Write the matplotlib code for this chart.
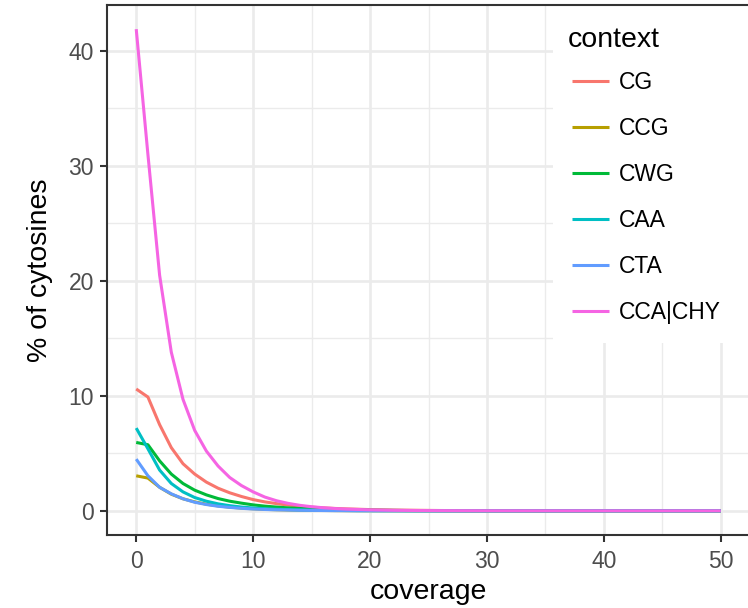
import numpy as np
import matplotlib
matplotlib.use("Agg")
import matplotlib.pyplot as plt
from matplotlib.patches import Rectangle

plt.rcParams["font.family"] = ["Liberation Sans", "DejaVu Sans"]

# ── data: % of cytosines by read coverage ───────────────────────────────────────
coverage = np.arange(0, 51)

cg = [10.6, 9.9, 7.5, 5.5, 4.1, 3.2, 2.5, 1.97, 1.57, 1.25,
      0.98, 0.78, 0.63, 0.5, 0.4, 0.32, 0.26, 0.21, 0.17, 0.14,
      0.11, 0.09, 0.07, 0.06, 0.05, 0.04, 0.03, 0.025, 0.02, 0.016,
      0.013, 0.01, 0.008, 0.007, 0.006, 0.005, 0.004, 0.003, 0.003, 0.002,
      0.002, 0.002, 0.001, 0.001, 0.001, 0.001, 0.001, 0.001, 0.001, 0.001,
      0.001]
ccg = [3.05, 2.85, 2.05, 1.45, 1.05, 0.78, 0.58, 0.43, 0.32, 0.24,
       0.18, 0.13, 0.1, 0.08, 0.06, 0.045, 0.035, 0.026, 0.02, 0.015,
       0.012, 0.009, 0.007, 0.005, 0.004, 0.003, 0.003, 0.002, 0.002, 0.001,
       0.001, 0.001, 0.001, 0.001, 0.001, 0.001, 0.001, 0.001, 0.001, 0.001,
       0.001, 0.001, 0.001, 0.001, 0.001, 0.001, 0.001, 0.001, 0.001, 0.001,
       0.001]
cwg = [5.95, 5.75, 4.35, 3.2, 2.38, 1.8, 1.39, 1.07, 0.84, 0.67,
       0.52, 0.41, 0.33, 0.26, 0.21, 0.17, 0.13, 0.11, 0.09, 0.07,
       0.06, 0.05, 0.04, 0.03, 0.025, 0.02, 0.016, 0.013, 0.01, 0.008,
       0.007, 0.005, 0.004, 0.004, 0.003, 0.002, 0.002, 0.002, 0.001, 0.001,
       0.001, 0.001, 0.001, 0.001, 0.001, 0.001, 0.001, 0.001, 0.001, 0.001,
       0.001]
caa = [7.2, 5.4, 3.55, 2.38, 1.65, 1.16, 0.84, 0.61, 0.45, 0.33,
       0.25, 0.19, 0.14, 0.11, 0.08, 0.06, 0.05, 0.04, 0.03, 0.02,
       0.016, 0.012, 0.01, 0.008, 0.006, 0.005, 0.004, 0.003, 0.002, 0.002,
       0.002, 0.001, 0.001, 0.001, 0.001, 0.001, 0.001, 0.001, 0.001, 0.001,
       0.001, 0.001, 0.001, 0.001, 0.001, 0.001, 0.001, 0.001, 0.001, 0.001,
       0.001]
cta = [4.5, 3.05, 2.05, 1.48, 1.05, 0.75, 0.55, 0.4, 0.3, 0.22,
       0.16, 0.12, 0.09, 0.07, 0.05, 0.04, 0.03, 0.02, 0.016, 0.012,
       0.01, 0.008, 0.006, 0.005, 0.004, 0.003, 0.002, 0.002, 0.002, 0.001,
       0.001, 0.001, 0.001, 0.001, 0.001, 0.001, 0.001, 0.001, 0.001, 0.001,
       0.001, 0.001, 0.001, 0.001, 0.001, 0.001, 0.001, 0.001, 0.001, 0.001,
       0.001]
cca_chy = [41.9, 31.0, 20.5, 13.8, 9.7, 7.0, 5.2, 3.9, 2.9, 2.2,
           1.65, 1.2, 0.88, 0.65, 0.48, 0.36, 0.27, 0.2, 0.15, 0.12,
           0.09, 0.07, 0.05, 0.04, 0.03, 0.025, 0.02, 0.015, 0.012, 0.01,
           0.008, 0.006, 0.005, 0.004, 0.003, 0.003, 0.002, 0.002, 0.002, 0.001,
           0.001, 0.001, 0.001, 0.001, 0.001, 0.001, 0.001, 0.001, 0.001, 0.001,
           0.001]

contexts = ["CG", "CCG", "CWG", "CAA", "CTA", "CCA|CHY"]
series = [cg, ccg, cwg, caa, cta, cca_chy]
colors = ["#F8766D", "#B79F00", "#00BA38", "#00BFC4", "#619CFF", "#F564E3"]

# ── figure ──────────────────────────────────────────────────────────────────────
W, H = 748, 608
fig = plt.figure(figsize=(W / 100, H / 100), dpi=100)
ax = fig.add_axes([107 / W, (H - 535) / H, (750 - 107) / W, (535 - 5) / H])

for name, vals, col in zip(contexts, series, colors):
    ax.plot(coverage, vals, color=col, lw=2.2, label=name, zorder=2,
            solid_capstyle="butt")

ax.set_xlim(-2.5, 52.5)
ax.set_ylim(-2.1, 44.0)
ax.set_xticks([0, 10, 20, 30, 40, 50])
ax.set_xticks([5, 15, 25, 35, 45], minor=True)
ax.set_yticks([0, 10, 20, 30, 40])
ax.set_yticks([5, 15, 25, 35], minor=True)

ax.grid(which="major", color="#EBEBEB", lw=1.9, zorder=0)
ax.grid(which="minor", color="#EBEBEB", lw=1.0, zorder=0)
ax.set_axisbelow(True)

for s in ax.spines.values():
    s.set_color("#333333")
    s.set_linewidth(1.5)

ax.tick_params(which="major", length=4.8, width=1.5, color="#333333",
               labelsize=16.5, labelcolor="#4D4D4D")
ax.tick_params(axis="x", pad=6)
ax.tick_params(axis="y", pad=4.5)
ax.tick_params(which="minor", length=0)

ax.set_xlabel("coverage", fontsize=20.5, labelpad=4)
ax.set_ylabel("% of cytosines", fontsize=20.5, labelpad=11)

# legend backdrop covering the top-right of the panel
ax.add_patch(Rectangle(((553 - 107) / 643, (535 - 343) / 530), 1.0, 1.0,
                       transform=ax.transAxes, facecolor="white",
                       edgecolor="none", zorder=2.2))

fig.text(568 / W, 1 - 47 / H, "context", fontsize=20.5, va="baseline",
         ha="left", zorder=5)
leg = ax.legend(loc="upper left", bbox_to_anchor=(572 / W, 1 - 71 / H),
                bbox_transform=fig.transFigure, frameon=False,
                fontsize=16.5, handlelength=1.62, handletextpad=0.44,
                labelspacing=1.0, borderpad=0, borderaxespad=0)
leg.set_zorder(5)

fig.savefig("out.png", dpi=100)
